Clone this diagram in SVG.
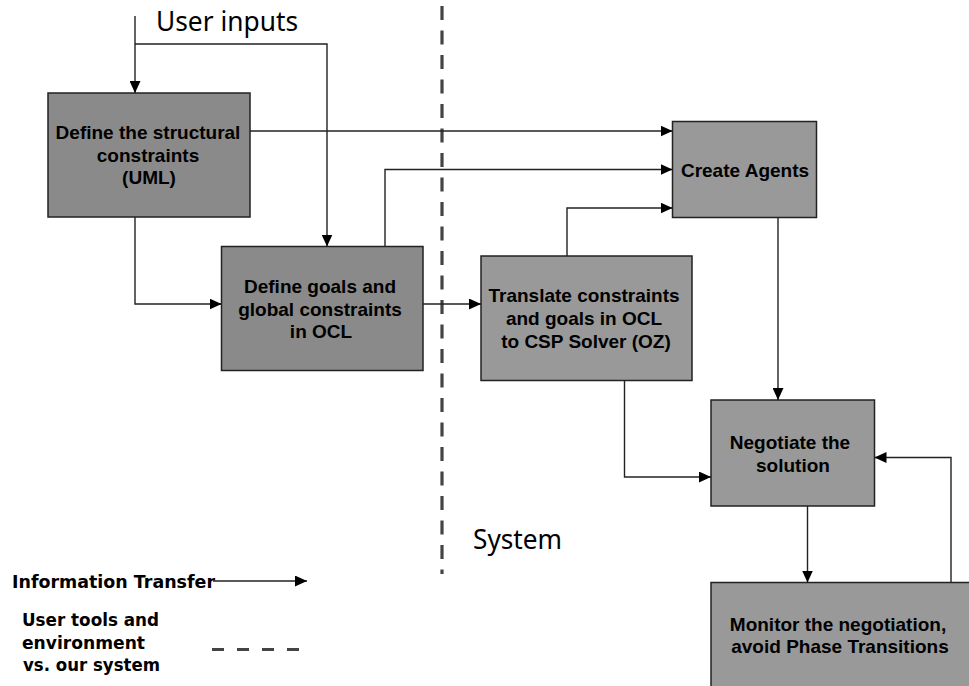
<svg xmlns="http://www.w3.org/2000/svg" width="969" height="686" viewBox="0 0 969 686">
<style>
.box{stroke:#222;stroke-width:1.5}
.dark{fill:#8a8a8a}
.light{fill:#999999}
.bt{font-family:"Liberation Sans",Arial,sans-serif;font-weight:bold;font-size:19px;fill:#000;text-anchor:middle}
.conn{fill:none;stroke:#222;stroke-width:1.4}
.big{font-family:"Noto Sans","DejaVu Sans",sans-serif;font-size:28px;fill:#000}
.leg{font-family:"DejaVu Sans",Verdana,sans-serif;font-weight:bold;font-size:17px;fill:#000}
.dash{stroke:#444;stroke-width:3.2;fill:none}
</style>
<defs>
<marker id="ah" markerWidth="12" markerHeight="11" refX="12" refY="5.5" orient="auto" markerUnits="userSpaceOnUse">
<path d="M0,0 L12,5.5 L0,11 z" fill="#000"/>
</marker>
</defs>
<rect width="969" height="686" fill="#fff"/>
<line class="dash" x1="442" y1="6" x2="442" y2="574" stroke-dasharray="14 10.5"/>
<text class="big" x="156" y="31" textLength="142" lengthAdjust="spacingAndGlyphs">User inputs</text>
<text class="big" x="473" y="549" textLength="89" lengthAdjust="spacingAndGlyphs">System</text>
<g id="n1">
<rect class="box dark" x="48" y="93" width="202" height="124"/>
<text class="bt" x="148" y="139">Define the structural</text>
<text class="bt" x="148" y="162">constraints</text>
<text class="bt" x="149" y="184">(UML)</text>
</g>
<g id="n2">
<rect class="box dark" x="221.5" y="246.5" width="201.5" height="124"/>
<text class="bt" x="320" y="293">Define goals and</text>
<text class="bt" x="320" y="316">global constraints</text>
<text class="bt" x="321" y="338">in OCL</text>
</g>
<g id="n3">
<rect class="box light" x="672.5" y="121.5" width="144" height="96"/>
<text class="bt" x="745" y="177">Create Agents</text>
</g>
<g id="n4">
<rect class="box light" x="481" y="256" width="211" height="124.5"/>
<text class="bt" x="584" y="302">Translate constraints</text>
<text class="bt" x="584" y="325">and goals in OCL</text>
<text class="bt" x="586" y="348">to CSP Solver (OZ)</text>
</g>
<g id="n5">
<rect class="box light" x="711" y="400" width="163.5" height="106"/>
<text class="bt" x="790" y="449">Negotiate the</text>
<text class="bt" x="793" y="472">solution</text>
</g>
<g id="n6">
<rect class="box light" x="711" y="582.5" width="262" height="110"/>
<text class="bt" x="838" y="631">Monitor the negotiation,</text>
<text class="bt" x="840" y="653">avoid Phase Transitions</text>
</g>
<g id="connectors">
<path class="conn" d="M135,16 V93" marker-end="url(#ah)"/>
<path class="conn" d="M135,44 H327 V246.5" marker-end="url(#ah)"/>
<path class="conn" d="M250,131 H672.5" marker-end="url(#ah)"/>
<path class="conn" d="M385,246.5 V169.5 H672.5" marker-end="url(#ah)"/>
<path class="conn" d="M567,256 V208 H672.5" marker-end="url(#ah)"/>
<path class="conn" d="M135,217 V304 H221.5" marker-end="url(#ah)"/>
<path class="conn" d="M423,304 H481" marker-end="url(#ah)"/>
<path class="conn" d="M778,217.5 V400" marker-end="url(#ah)"/>
<path class="conn" d="M624.5,380.5 V477 H711" marker-end="url(#ah)"/>
<path class="conn" d="M807.5,506 V582.5" marker-end="url(#ah)"/>
<path class="conn" d="M951,582.5 V457.5 H874.5" marker-end="url(#ah)"/>
</g>
<g id="legend">
<text class="leg" x="12" y="588" textLength="203" lengthAdjust="spacingAndGlyphs">Information Transfer</text>
<path class="conn" d="M213,581 H307" marker-end="url(#ah)"/>
<text class="leg" x="22" y="626" textLength="137" lengthAdjust="spacingAndGlyphs">User tools and</text>
<text class="leg" x="22" y="649" textLength="123" lengthAdjust="spacingAndGlyphs">environment</text>
<text class="leg" x="23" y="671" textLength="137" lengthAdjust="spacingAndGlyphs">vs. our system</text>
<line class="dash" x1="212" y1="649.5" x2="299" y2="649.5" stroke-dasharray="12 13"/>
</g>
</svg>
